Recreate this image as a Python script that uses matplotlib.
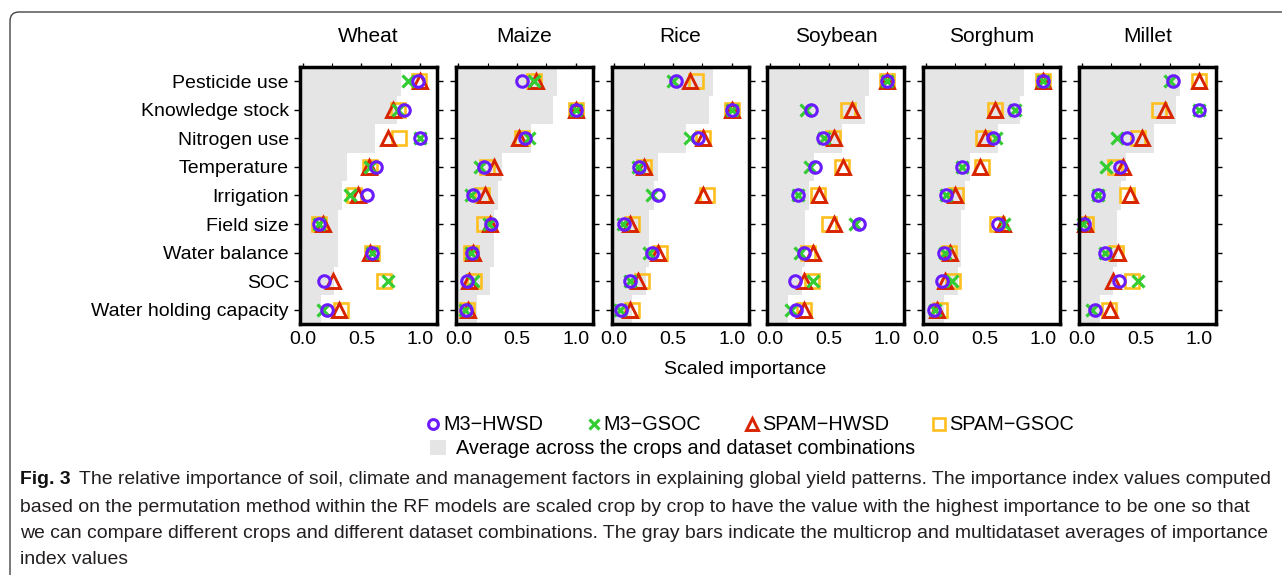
import matplotlib
matplotlib.use("Agg")
import matplotlib.pyplot as plt
from matplotlib.lines import Line2D
from matplotlib.patches import Patch, FancyBboxPatch
import numpy as np

plt.rcParams['font.family'] = ['Liberation Sans', 'DejaVu Sans']

factors = ["Pesticide use", "Knowledge stock", "Nitrogen use", "Temperature",
           "Irrigation", "Field size", "Water balance", "SOC",
           "Water holding capacity"]
crops = ["Wheat", "Maize", "Rice", "Soybean", "Sorghum", "Millet"]
datasets = ["M3\u2212HWSD", "M3\u2212GSOC", "SPAM\u2212HWSD", "SPAM\u2212GSOC"]

# multicrop / multidataset average importance (gray bars)
average = [0.84, 0.805, 0.615, 0.375, 0.335, 0.30, 0.30, 0.27, 0.155]

# order of lists: M3-HWSD, M3-GSOC, SPAM-HWSD, SPAM-GSOC
wheat = [
    [0.98, 0.86, 1.00, 0.625, 0.545, 0.14, 0.59, 0.185, 0.21],
    [0.90, 0.81, 1.00, 0.575, 0.40, 0.14, 0.59, 0.73, 0.175],
    [1.00, 0.77, 0.73, 0.565, 0.47, 0.175, 0.57, 0.26, 0.31],
    [0.99, 0.81, 0.82, 0.575, 0.44, 0.135, 0.59, 0.69, 0.33],
]
maize = [
    [0.54, 1.00, 0.57, 0.22, 0.12, 0.28, 0.115, 0.07, 0.06],
    [0.64, 1.00, 0.60, 0.18, 0.11, 0.26, 0.11, 0.12, 0.055],
    [0.66, 1.00, 0.52, 0.30, 0.23, 0.27, 0.12, 0.09, 0.085],
    [0.64, 1.00, 0.54, 0.24, 0.20, 0.22, 0.11, 0.13, 0.075],
]
rice = [
    [0.53, 1.00, 0.715, 0.21, 0.37, 0.08, 0.32, 0.135, 0.06],
    [0.50, 1.00, 0.645, 0.205, 0.32, 0.077, 0.30, 0.135, 0.05],
    [0.645, 1.00, 0.76, 0.25, 0.755, 0.13, 0.375, 0.205, 0.135],
    [0.70, 1.00, 0.76, 0.255, 0.79, 0.155, 0.39, 0.24, 0.15],
]
soybean = [
    [1.00, 0.35, 0.455, 0.385, 0.235, 0.755, 0.29, 0.215, 0.225],
    [1.00, 0.31, 0.46, 0.34, 0.235, 0.725, 0.255, 0.37, 0.175],
    [1.00, 0.70, 0.545, 0.62, 0.42, 0.545, 0.365, 0.285, 0.285],
    [1.00, 0.66, 0.535, 0.61, 0.405, 0.50, 0.32, 0.355, 0.29],
]
sorghum = [
    [1.00, 0.75, 0.575, 0.31, 0.17, 0.615, 0.155, 0.135, 0.07],
    [1.00, 0.76, 0.60, 0.305, 0.175, 0.67, 0.16, 0.22, 0.08],
    [1.00, 0.59, 0.50, 0.46, 0.25, 0.66, 0.205, 0.16, 0.095],
    [1.00, 0.59, 0.49, 0.48, 0.26, 0.61, 0.20, 0.235, 0.12],
]
millet = [
    [0.78, 1.00, 0.385, 0.325, 0.135, 0.02, 0.20, 0.32, 0.115],
    [0.75, 1.00, 0.30, 0.21, 0.135, 0.015, 0.20, 0.48, 0.085],
    [1.00, 0.71, 0.51, 0.355, 0.41, 0.03, 0.31, 0.27, 0.24],
    [1.00, 0.66, 0.48, 0.285, 0.385, 0.04, 0.29, 0.425, 0.235],
]
crop_data = [wheat, maize, rice, soybean, sorghum, millet]

x_ticks = [0.0, 0.5, 1.0]
x_tick_labels = ["0.0", "0.5", "1.0"]

caption_bold = "Fig. 3"
caption_lines = [
    "The relative importance of soil, climate and management factors in explaining global yield patterns. The importance index values computed",
    "based on the permutation method within the RF models are scaled crop by crop to have the value with the highest importance to be one so that",
    "we can compare different crops and different dataset combinations. The gray bars indicate the multicrop and multidataset averages of importance",
    "index values",
]

# ---- styles ----
colors = ["#6a1bff", "#33cc33", "#d82400", "#ffbf1f"]
markers = ["o", "x", "^", "s"]
msizes = [8.3, 8.5, 9.8, 10.5]
mews = [2.2, 2.3, 2.1, 1.9]
zorders = [6, 5, 4, 3]
draw_order = [3, 2, 1, 0]
GRAY = "#e5e5e5"

W, H = 1282, 575
fig = plt.figure(figsize=(W / 100, H / 100), dpi=100)

XMIN, XMAX = -0.023, 1.145
left0, step, pw = 300, 155.8, 137
top_px, bot_px = 67, 324
rows = np.arange(len(factors))

for k, (crop, data) in enumerate(zip(crops, crop_data)):
    lx = left0 + step * k
    ax = fig.add_axes([lx / W, 1 - bot_px / H, pw / W, (bot_px - top_px) / H])
    ax.barh(rows, np.array(average) - XMIN, left=XMIN, height=1.0,
            color=GRAY, edgecolor="none", zorder=1)
    for i in draw_order:
        ax.plot(data[i], rows, linestyle="none", marker=markers[i],
                markersize=msizes[i], markeredgewidth=mews[i],
                markeredgecolor=colors[i], markerfacecolor="none",
                zorder=zorders[i], clip_on=False)
    ax.set_xlim(XMIN, XMAX)
    ax.set_ylim(len(factors) - 0.5, -0.5)
    ax.set_yticks(rows)
    if k == 0:
        ax.set_yticklabels(factors, fontsize=14)
    else:
        ax.set_yticklabels([])
    ax.tick_params(axis="y", which="both", left=True, right=True,
                   direction="out", length=4, width=1, pad=4)
    ax.set_xticks(x_ticks)
    ax.set_xticklabels(x_tick_labels, fontsize=14)
    ax.tick_params(axis="x", which="major", bottom=False, top=True,
                   direction="out", length=3, width=1, pad=2)
    ax.set_xticks(np.arange(0, 1.15, 0.25), minor=True)
    ax.tick_params(axis="x", which="minor", bottom=False, top=True,
                   direction="out", length=3, width=0.8)
    for s in ax.spines.values():
        s.set_linewidth(2.5)
        s.set_color("black")
        s.set_zorder(10)
    ax.set_title(crop, fontsize=15, pad=0, y=1 + (top_px - 37) / (bot_px - top_px), va="center")

fig.text(745 / W, 1 - 370 / H, "Scaled importance", ha="center", va="center", fontsize=14)

# legend row 1
handles = [Line2D([], [], linestyle="none", marker=markers[i], markersize=msizes[i] * 0.85,
                  markeredgewidth=mews[i], markeredgecolor=colors[i],
                  markerfacecolor="none") for i in range(4)]
fig.legend(handles, datasets, loc="center left", bbox_to_anchor=(427 / W, 1 - 425 / H),
           ncol=4, frameon=False, fontsize=14.3, handlelength=0.6, handletextpad=0.2,
           columnspacing=2.25, borderpad=0, borderaxespad=0)
fig.legend([Patch(facecolor=GRAY, edgecolor="none")],
           ["Average across the crops and dataset combinations"],
           loc="center left", bbox_to_anchor=(430 / W, 1 - 449 / H),
           frameon=False, fontsize=14.3, handlelength=0.8, handleheight=0.8,
           handletextpad=0.5, borderpad=0, borderaxespad=0)

# caption: fit first line to span the reference width
line_y = [480, 507, 533, 560]
renderer = fig.canvas.get_renderer()
fs0 = 12.0
tb = fig.text(0, 0, caption_bold, fontsize=fs0, fontweight="bold")
t0 = fig.text(0, 0, caption_lines[0], fontsize=fs0)
w_total = tb.get_window_extent(renderer).width + t0.get_window_extent(renderer).width
tb.remove(); t0.remove()
cap_fs = fs0 * (1255 - 8) / w_total

tb = fig.text(20 / W, 1 - line_y[0] / H, caption_bold, fontsize=cap_fs,
              fontweight="bold", color="#111111", va="center", ha="left")
bb = tb.get_window_extent(renderer)
fig.text((bb.x1 + 8) / W, 1 - line_y[0] / H, caption_lines[0], fontsize=cap_fs,
         color="#231f20", va="center", ha="left")
for y, line in zip(line_y[1:], caption_lines[1:]):
    fig.text(20 / W, 1 - y / H, line, fontsize=cap_fs, color="#231f20",
             va="center", ha="left")

# rounded border
box = FancyBboxPatch((0.10, -0.5), 13.5, 5.63 + 0.5,
                     boxstyle="round,pad=0,rounding_size=0.09",
                     transform=fig.dpi_scale_trans, facecolor="none",
                     edgecolor="#444444", linewidth=1.0)
fig.patches.append(box)

fig.savefig("out.png", dpi=100)
